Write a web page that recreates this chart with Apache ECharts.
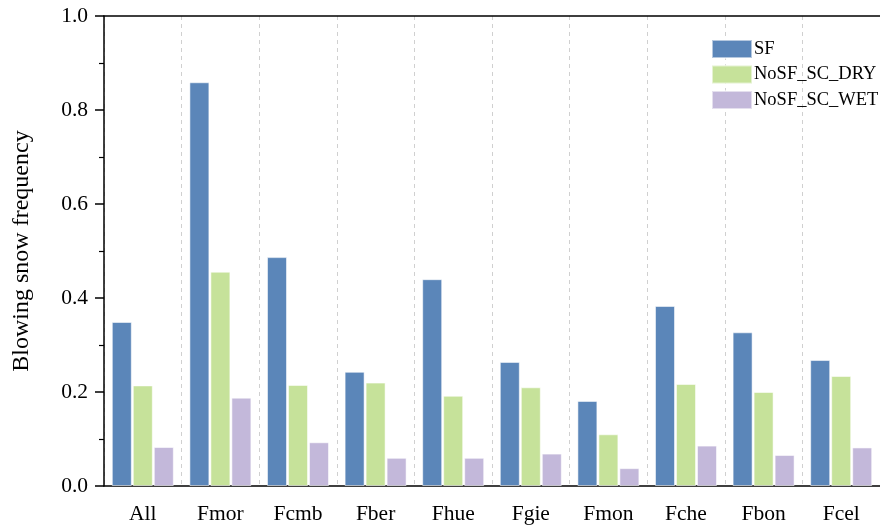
<!DOCTYPE html>
<html>
<head>
<meta charset="utf-8">
<script src="https://cdn.jsdelivr.net/npm/echarts@6/dist/echarts.min.js"></script>
<style>html,body{margin:0;padding:0;background:#fff}#c{width:880px;height:526px}</style>
</head>
<body>
<div id="c"></div>
<script>
const categories = ['All','Fmor','Fcmb','Fber','Fhue','Fgie','Fmon','Fche','Fbon','Fcel'];
const seriesNames = ['SF','NoSF_SC_DRY','NoSF_SC_WET'];
const sf    = [0.349,0.859,0.487,0.243,0.440,0.264,0.181,0.383,0.327,0.268];
const dry   = [0.214,0.456,0.215,0.220,0.192,0.210,0.110,0.217,0.200,0.234];
const wet   = [0.083,0.188,0.093,0.060,0.060,0.069,0.038,0.086,0.066,0.082];
const yTicks = [0,0.2,0.4,0.6,0.8,1.0];

const font = 'Liberation Serif';
const colors = ['#5B86B9','#C6E29A','#C3B8DA'];
const chart = echarts.init(document.getElementById('c'));
const mkSeries = (name, data, i) => ({
  name, type:'bar', data, xAxisIndex:0, yAxisIndex:0,
  barWidth:20, barGap:'5%',
  itemStyle:{color:colors[i], borderColor:'rgba(255,255,255,0.55)', borderWidth:1},
  emphasis:{disabled:true}
});
chart.setOption({
  animation:false,
  grid:{left:104, right:-14, top:16, bottom:40},
  legend:{
    orient:'vertical', left:706, top:34,
    itemWidth:40, itemHeight:18, itemGap:5.5,
    textStyle:{fontFamily:font, fontSize:18.5, color:'#000', padding:[0,0,0,-3]},
    icon:'rect',
    data:seriesNames
  },
  xAxis:[
    {type:'category', data:categories, position:'bottom',
     axisLine:{lineStyle:{color:'#000', width:1.5}},
     axisTick:{alignWithLabel:true, length:9, lineStyle:{color:'#000', width:1.5}},
     axisLabel:{fontFamily:font, fontSize:21.5, color:'#000', margin:17},
     splitLine:{show:false}},
    {type:'category', data:categories, position:'bottom',
     axisLine:{show:false},
     axisTick:{length:6, lineStyle:{color:'#000', width:1.2}},
     axisLabel:{show:false},
     splitLine:{show:true, lineStyle:{color:'#d0d0d0', type:[4,4], width:1}}},
    {type:'category', data:categories, position:'top',
     axisLine:{lineStyle:{color:'#000', width:1.5}},
     axisTick:{inside:true, length:5, lineStyle:{color:'#000', width:1.2}},
     axisLabel:{show:false},
     splitLine:{show:false}}
  ],
  yAxis:{
    type:'value', min:yTicks[0], max:yTicks[yTicks.length-1], interval:0.2,
    name:'Blowing snow frequency', nameLocation:'middle', nameGap:70,
    nameTextStyle:{fontFamily:font, fontSize:24, color:'#000'},
    axisLine:{show:true, lineStyle:{color:'#000', width:1.5}},
    axisTick:{show:true, length:9, lineStyle:{color:'#000', width:1.5}},
    minorTick:{show:true, splitNumber:2, length:5, lineStyle:{color:'#000', width:1.2}},
    axisLabel:{fontFamily:font, fontSize:21.5, color:'#000', margin:16, formatter:v=>v.toFixed(1)},
    splitLine:{show:false}
  },
  series:[mkSeries(seriesNames[0], sf, 0), mkSeries(seriesNames[1], dry, 1), mkSeries(seriesNames[2], wet, 2)]
});
</script>
</body>
</html>
